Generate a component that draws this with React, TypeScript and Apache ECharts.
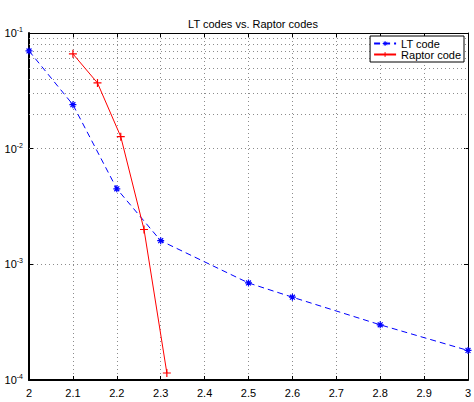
import React, { useEffect, useRef } from "react";
import * as echarts from "echarts";

const titleText = "LT codes vs. Raptor codes";
const ltName = "LT code";
const raptorName = "Raptor code";
const ltX = [2, 2.1, 2.2, 2.3, 2.5, 2.6, 2.8, 3];
const ltBer = [0.07, 0.024, 0.0045, 0.0016, 0.00069, 0.00052, 0.0003, 0.00018];
const raptorX = [2.1, 2.156, 2.209, 2.262, 2.314];
const raptorBer = [0.066, 0.037, 0.0127, 0.002, 0.000115];
const minorGridValues: number[] = [];
for (const d of [1e-4, 1e-3, 1e-2]) {
  for (let k = 2; k <= 9; k++) minorGridValues.push(+(k * d).toPrecision(3));
}

const FONT = "Liberation Sans";
const STAR = "path://M0,5L10,5M5,0L5,10M1.5,1.5L8.5,8.5M8.5,1.5L1.5,8.5";
const PLUS = "path://M0,5L10,5M5,0L5,10";
const gridLine = { color: "#8c8c8c", type: [1, 3] as any, width: 1 };

export default function App() {
  const ref = useRef<HTMLDivElement>(null);
  useEffect(() => {
    const chart = echarts.init(ref.current!, undefined, { renderer: "svg" });
    chart.setOption({
      animation: false,
      backgroundColor: "#fff",
      textStyle: { fontFamily: FONT },
      title: {
        text: titleText,
        left: 248,
        textAlign: "center",
        top: 13,
        textStyle: { fontSize: 11, fontWeight: "normal", color: "#000", fontFamily: FONT },
      },
      legend: {
        right: 10,
        top: 36,
        orient: "vertical",
        align: "left",
        itemGap: 0,
        itemWidth: 22,
        itemHeight: 6,
        padding: [2, 3, 2, 3],
        borderColor: "#000",
        borderWidth: 1,
        borderRadius: 0,
        backgroundColor: "#fff",
        itemStyle: { borderWidth: 1 },
        textStyle: { fontSize: 11, lineHeight: 11, color: "#000", fontFamily: FONT },
        data: [ltName, raptorName],
      },
      grid: { left: 29, right: 6, top: 33, bottom: 22, outerBoundsMode: "none", containLabel: false },
      xAxis: [
        {
          type: "value",
          min: 2,
          max: 3,
          interval: 0.1,
          name: "{p|p}{s|-1}",
          nameLocation: "middle",
          nameGap: 18,
          nameTextStyle: {
            rich: {
              p: { fontSize: 12, color: "#000", fontFamily: FONT },
              s: { fontSize: 8, color: "#000", fontFamily: FONT, verticalAlign: "bottom", padding: [0, 0, 8, 0] },
            },
          },
          axisLine: { lineStyle: { color: "#000", width: 2 } },
          axisTick: { inside: true, length: 4, lineStyle: { color: "#000" } },
          axisLabel: { fontSize: 11, color: "#000", margin: 7, fontFamily: FONT },
          splitLine: { show: true, lineStyle: gridLine },
        },
        {
          type: "value",
          position: "top",
          min: 2,
          max: 3,
          interval: 0.1,
          axisLine: { show: true, lineStyle: { color: "#000", width: 1 } },
          axisTick: { show: true, inside: true, length: 4, lineStyle: { color: "#000" } },
          axisLabel: { show: false },
          splitLine: { show: false },
        },
      ],
      yAxis: [
        {
          type: "log",
          logBase: 10,
          min: 1e-4,
          max: 1e-1,
          name: "BER",
          nameLocation: "middle",
          nameGap: 27,
          nameRotate: 90,
          nameTextStyle: { fontSize: 11, color: "#000", fontFamily: FONT },
          axisLine: { show: true, lineStyle: { color: "#000", width: 2 } },
          axisTick: { show: true, inside: true, length: 4, lineStyle: { color: "#000" } },
          axisLabel: {
            margin: 6,
            formatter: (v: number) => `{b|10}{s|-${Math.round(-Math.log10(v))}}`,
            rich: {
              b: { fontSize: 11, color: "#000", fontFamily: FONT },
              s: { fontSize: 7, color: "#000", fontFamily: FONT, verticalAlign: "bottom", padding: [0, 0, 7, 0] },
            },
          },
          splitLine: { show: true, lineStyle: gridLine },
        },
        {
          type: "log",
          logBase: 10,
          min: 1e-4,
          max: 1e-1,
          position: "right",
          axisLine: { show: true, lineStyle: { color: "#000", width: 1 } },
          axisTick: { show: true, inside: true, length: 4, lineStyle: { color: "#000" } },
          axisLabel: { show: false },
          splitLine: { show: false },
        },
      ],
      series: [
        {
          name: ltName,
          type: "line",
          data: ltX.map((x, i) => [x, ltBer[i]]),
          symbol: STAR,
          symbolSize: 7,
          showAllSymbol: true,
          lineStyle: { color: "#0000ff", width: 1, type: [6, 4] as any },
          itemStyle: { color: "#0000ff", borderColor: "#0000ff", borderWidth: 1.2 },
          z: 3,
          markLine: {
            silent: true,
            symbol: "none",
            label: { show: false },
            lineStyle: gridLine,
            animation: false,
            z: 1,
            data: minorGridValues.map((v) => ({ yAxis: v })),
          },
        },
        {
          name: raptorName,
          type: "line",
          data: raptorX.map((x, i) => [x, raptorBer[i]]),
          symbol: PLUS,
          symbolSize: 8,
          showAllSymbol: true,
          lineStyle: { color: "#ff0000", width: 1 },
          itemStyle: { color: "#ff0000", borderColor: "#ff0000", borderWidth: 1.2 },
          z: 4,
        },
      ],
    });
    return () => chart.dispose();
  }, []);
  return (
    <div
      ref={ref}
      style={{ position: "absolute", left: 0, top: 0, width: 474, height: 402 }}
    />
  );
}
